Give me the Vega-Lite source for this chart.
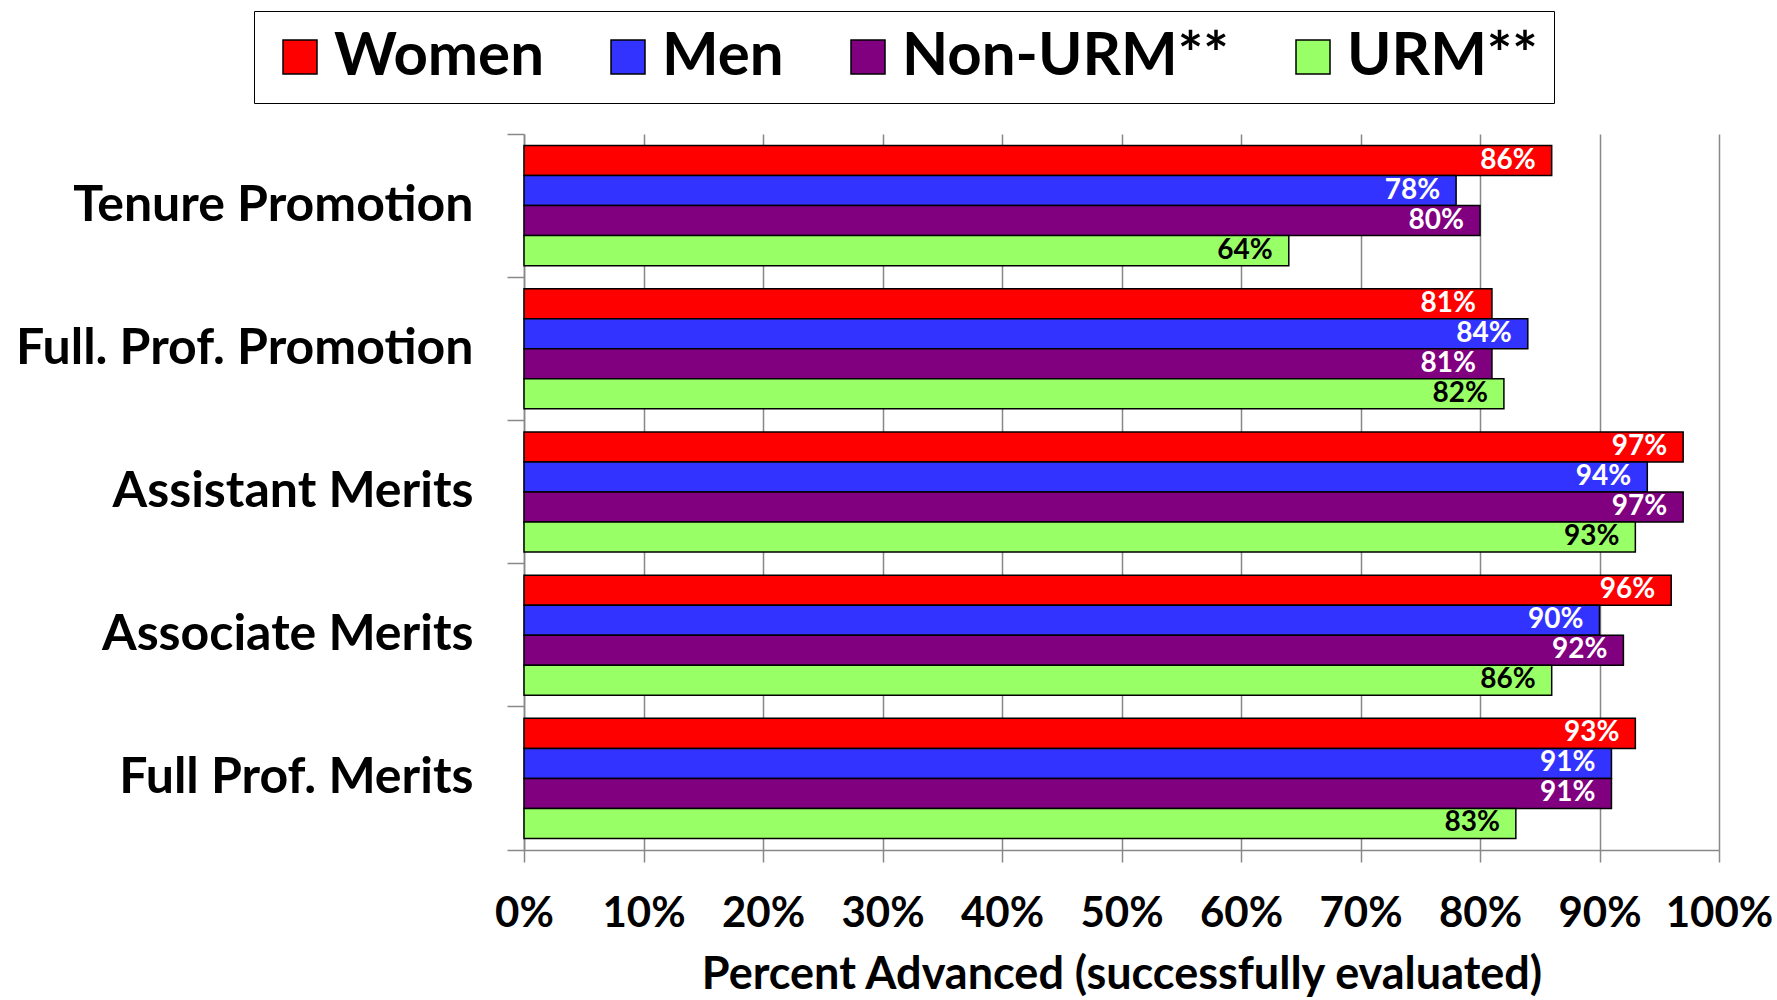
{
  "$schema": "https://vega.github.io/schema/vega-lite/v6.json",
  "width": 1195,
  "height": 716,
  "autosize": {"type": "none"},
  "padding": {"left": 524, "top": 134, "right": 58, "bottom": 150},
  "background": "white",
  "config": {
    "font": "Lato",
    "view": {"stroke": null}
  },
  "data": {
    "values": [
      {"category": "Tenure Promotion", "group": "Women", "pct": 0.86},
      {"category": "Tenure Promotion", "group": "Men", "pct": 0.78},
      {"category": "Tenure Promotion", "group": "Non-URM**", "pct": 0.80},
      {"category": "Tenure Promotion", "group": "URM**", "pct": 0.64},
      {"category": "Full. Prof. Promotion", "group": "Women", "pct": 0.81},
      {"category": "Full. Prof. Promotion", "group": "Men", "pct": 0.84},
      {"category": "Full. Prof. Promotion", "group": "Non-URM**", "pct": 0.81},
      {"category": "Full. Prof. Promotion", "group": "URM**", "pct": 0.82},
      {"category": "Assistant Merits", "group": "Women", "pct": 0.97},
      {"category": "Assistant Merits", "group": "Men", "pct": 0.94},
      {"category": "Assistant Merits", "group": "Non-URM**", "pct": 0.97},
      {"category": "Assistant Merits", "group": "URM**", "pct": 0.93},
      {"category": "Associate Merits", "group": "Women", "pct": 0.96},
      {"category": "Associate Merits", "group": "Men", "pct": 0.90},
      {"category": "Associate Merits", "group": "Non-URM**", "pct": 0.92},
      {"category": "Associate Merits", "group": "URM**", "pct": 0.86},
      {"category": "Full Prof. Merits", "group": "Women", "pct": 0.93},
      {"category": "Full Prof. Merits", "group": "Men", "pct": 0.91},
      {"category": "Full Prof. Merits", "group": "Non-URM**", "pct": 0.91},
      {"category": "Full Prof. Merits", "group": "URM**", "pct": 0.83}
    ]
  },
  "encoding": {
    "y": {
      "field": "category",
      "type": "nominal",
      "sort": ["Tenure Promotion", "Full. Prof. Promotion", "Assistant Merits", "Associate Merits", "Full Prof. Merits"],
      "scale": {"paddingInner": 0, "paddingOuter": 0},
      "axis": {
        "title": null,
        "bandPosition": 1,
        "tickExtra": true,
        "tickSize": 17,
        "tickColor": "#888888",
        "tickWidth": 1.5,
        "domainColor": "#888888",
        "domainWidth": 1.5,
        "labelPadding": 34,
        "labelFont": "Lato",
        "labelFontWeight": "bold",
        "labelFontSize": 50,
        "labelColor": "black",
        "labelLimit": 0,
        "labelBaseline": "middle"
      }
    },
    "yOffset": {
      "field": "group",
      "sort": ["Women", "Men", "Non-URM**", "URM**"],
      "scale": {"paddingInner": 0, "paddingOuter": 0.385}
    },
    "x": {
      "field": "pct",
      "type": "quantitative",
      "scale": {"domain": [0, 1], "nice": false},
      "axis": {
        "title": "Percent Advanced (successfully evaluated)",
        "values": [0, 0.1, 0.2, 0.3, 0.4, 0.5, 0.6, 0.7, 0.8, 0.9, 1],
        "format": ".0%",
        "grid": true,
        "gridColor": "#888888",
        "gridWidth": 1.5,
        "tickSize": 12,
        "tickColor": "#888888",
        "tickWidth": 1.5,
        "domainColor": "#888888",
        "domainWidth": 1.5,
        "labelPadding": 31,
        "labelFont": "Lato",
        "labelFontWeight": "bold",
        "labelFontSize": 42,
        "labelColor": "black",
        "labelFlush": false,
        "titleFont": "Lato",
        "titleFontWeight": "bold",
        "titleFontSize": 45,
        "titleColor": "black",
        "titlePadding": 18
      }
    }
  },
  "layer": [
    {
      "mark": {"type": "bar", "stroke": "black", "strokeWidth": 1.5},
      "encoding": {
        "color": {
          "field": "group",
          "type": "nominal",
          "scale": {
            "domain": ["Women", "Men", "Non-URM**", "URM**"],
            "range": ["#FF0000", "#3333FF", "#800080", "#99FF66"]
          },
          "legend": {
            "orient": "none",
            "legendX": -270,
            "legendY": -123,
            "direction": "horizontal",
            "title": null,
            "symbolType": "square",
            "symbolSize": 1156,
            "symbolStrokeColor": "black",
            "symbolStrokeWidth": 1.5,
            "symbolOpacity": 1,
            "labelFont": "Lato",
            "labelFontWeight": "bold",
            "labelFontSize": 60,
            "labelColor": "black",
            "labelOffset": 4,
            "labelLimit": 0,
            "columnPadding": 54,
            "strokeColor": "black",
            "padding": 16
          }
        }
      }
    },
    {
      "mark": {"type": "text", "align": "right", "baseline": "middle", "dx": -16, "fontWeight": "bold", "fontSize": 28, "font": "Lato"},
      "encoding": {
        "text": {"field": "pct", "type": "quantitative", "format": ".0%"},
        "color": {
          "condition": {"test": "datum.group === 'URM**'", "value": "black"},
          "value": "white"
        }
      }
    }
  ]
}
